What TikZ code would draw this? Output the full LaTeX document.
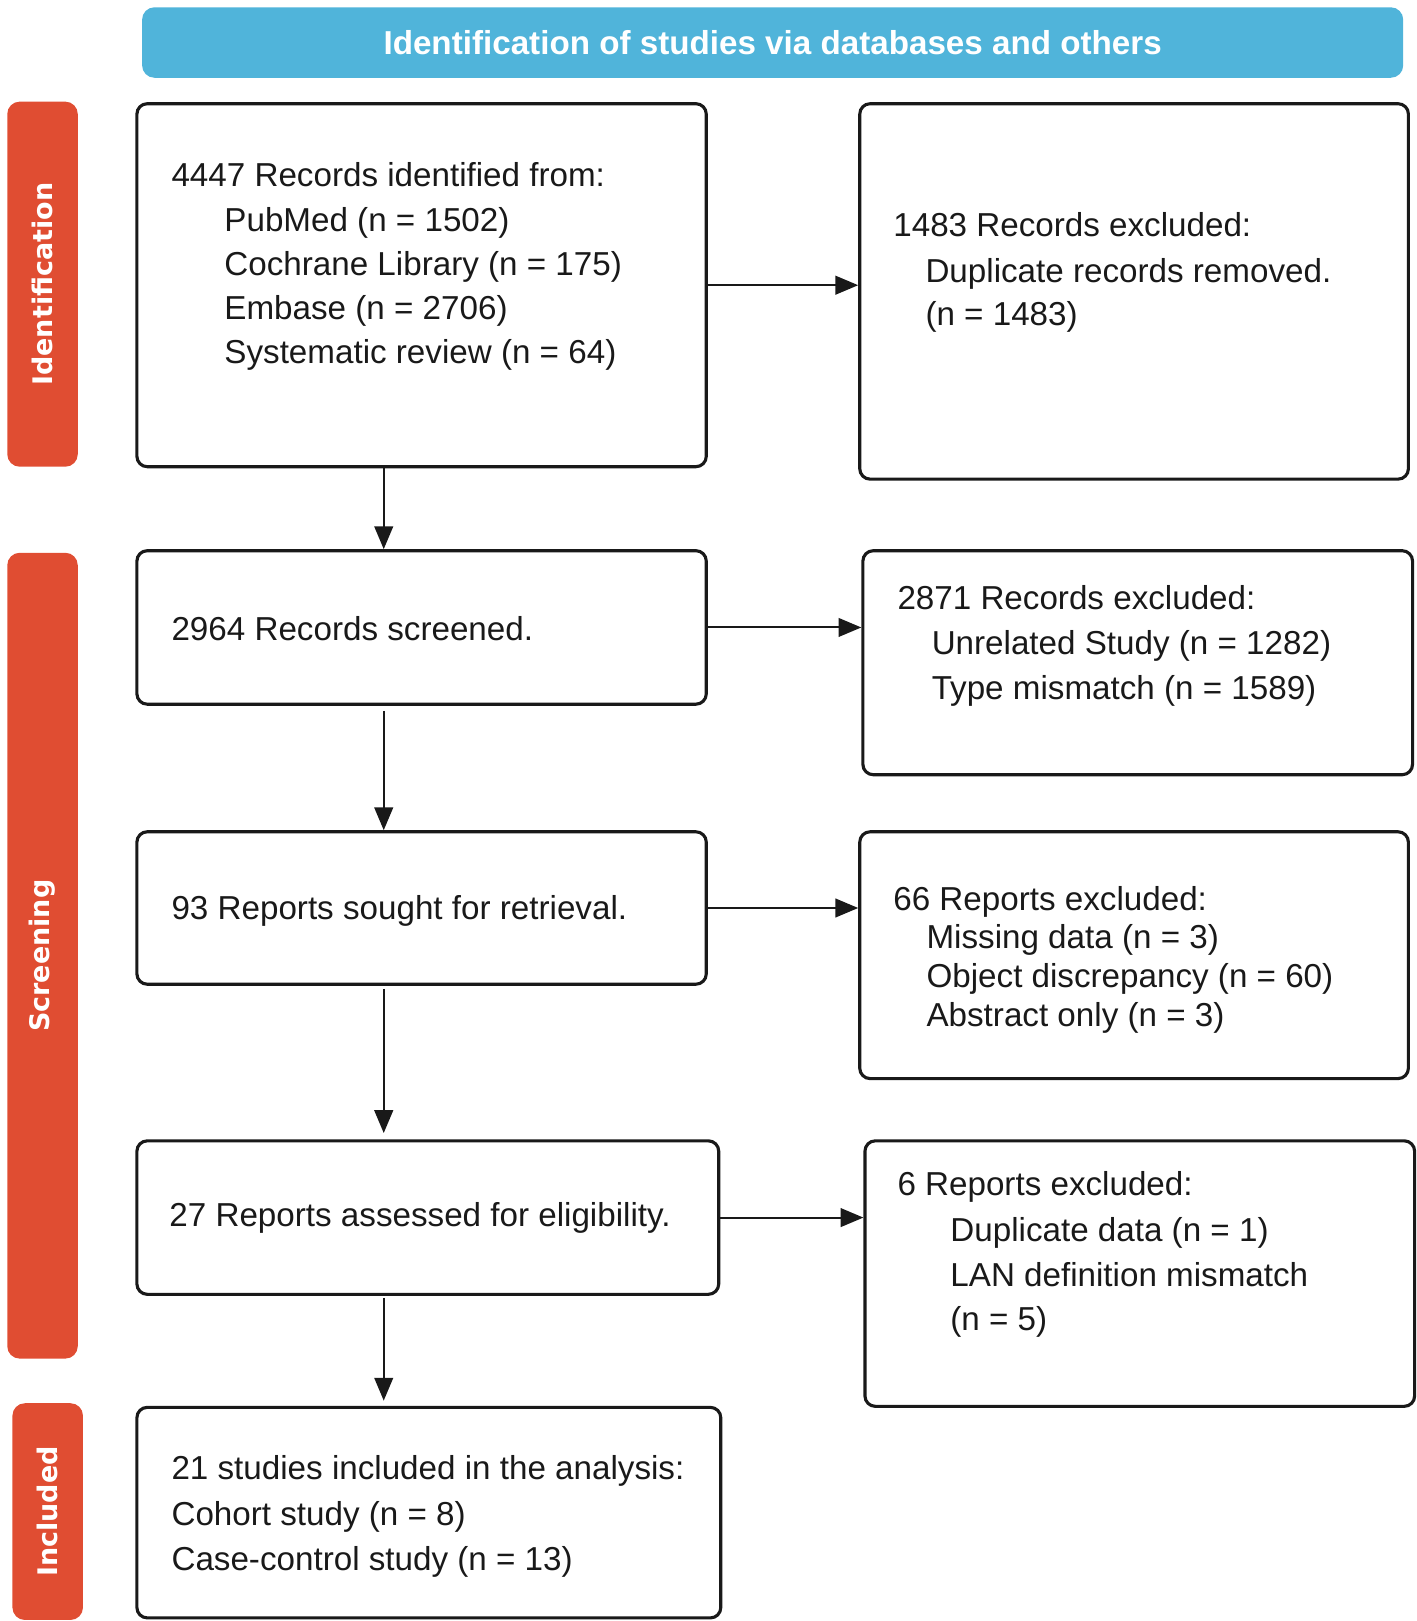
\documentclass[tikz,border=0pt]{standalone}
\usepackage{fontspec}
\setmainfont{Liberation Sans}
\newfontfamily\sidefont{DejaVu Sans}
\usetikzlibrary{arrows.meta,positioning}
\definecolor{headblue}{RGB}{80,180,218}
\definecolor{sidered}{RGB}{224,77,50}
\tikzset{
  box/.style={draw=black!90, line width=1.5pt, rounded corners=5pt, inner sep=0pt},
  txt/.style={anchor=base west, inner sep=0pt, font=\fontsize{16}{19}\selectfont, text=black!90},
  side/.style={fill=sidered, rounded corners=6pt, inner sep=0pt},
  sidetxt/.style={rotate=90, inner sep=0pt, text=white, font=\sidefont\bfseries\fontsize{13}{15}\selectfont},
  arr/.style={-{Triangle[length=11pt,width=9pt]}, line width=1pt, black!90},
}

\begin{document}
\begin{tikzpicture}[x=0.5pt,y=-0.5pt]
  \useasboundingbox (0,0) rectangle (1366,1563);

  % Header
  \node[fill=headblue, rounded corners=6pt, minimum width=608pt, minimum height=34pt] (head) at (745,41) {};
  \node[text=white, font=\bfseries\fontsize{16}{19}\selectfont] (headl) at (head) {Identification of studies via databases and others};

  % Phase labels
  \node[side, minimum width=34pt, minimum height=176pt] (sid) at (41,274) {};
  \node[sidetxt] (sidl) at (sid) {Identification};
  \node[side, minimum width=34pt, minimum height=388.5pt] (scr) at (41,921.5) {};
  \node[sidetxt] (scrl) at (scr) {Screening};
  \node[side, minimum width=34pt, minimum height=104.5pt] (inc) at (46,1457.5) {};
  \node[sidetxt] (incl) at (inc) {Included};

  % Main column
  \node[box, minimum width=274.5pt, minimum height=175pt] (b1) at (406.5,275) {};
  \node[box, minimum width=274.5pt, minimum height=74pt] (b2) at (406.5,605) {};
  \node[box, minimum width=274.5pt, minimum height=73.5pt] (b3) at (406.5,875.5) {};
  \node[box, minimum width=280.5pt, minimum height=74pt] (b4) at (412.5,1174) {};
  \node[box, minimum width=281.5pt, minimum height=101.5pt] (b5) at (413.5,1458.5) {};

  % Exclusion column
  \node[box, minimum width=264.5pt, minimum height=181pt] (r1) at (1093.5,281) {};
  \node[box, minimum width=265pt, minimum height=108pt] (r2) at (1097,639) {};
  \node[box, minimum width=264.5pt, minimum height=119pt] (r3) at (1093.5,921) {};
  \node[box, minimum width=265pt, minimum height=128pt] (r4) at (1099,1228) {};

  % Texts
  \node[txt] (b1l) at (165,180) {4447 Records identified from:};
  \foreach \t [count=\i] in {PubMed (n = 1502), Cochrane Library (n = 175), Embase (n = 2706), Systematic review (n = 64)}
    \node[txt] (b1l\i) at (216,{223+(\i-1)*42.5}) {\t};
  \node[txt] (b2l) at (165,618) {2964 Records screened.};
  \node[txt] (b3l) at (165,887) {93 Reports sought for retrieval.};
  \node[txt] (b4l) at (163,1183) {27 Reports assessed for eligibility.};
  \foreach \t [count=\i] in {21 studies included in the analysis:, Cohort study (n = 8), Case-control study (n = 13)}
    \node[txt] (b5l\i) at (165,{1427+(\i-1)*43.5}) {\t};

  \node[txt] (r1l) at (861,228) {1483 Records excluded:};
  \foreach \t [count=\i] in {Duplicate records removed., {(n = 1483)}}
    \node[txt] (r1l\i) at (892,{272+(\i-1)*42}) {\t};
  \node[txt] (r2l) at (865,588) {2871 Records excluded:};
  \foreach \t [count=\i] in {Unrelated Study (n = 1282), Type mismatch (n = 1589)}
    \node[txt] (r2l\i) at (898,{631+(\i-1)*43}) {\t};
  \node[txt] (r3l) at (861,878) {66 Reports excluded:};
  \foreach \t [count=\i] in {Missing data (n = 3), Object discrepancy (n = 60), Abstract only (n = 3)}
    \node[txt] (r3l\i) at (893,{915+(\i-1)*37.5}) {\t};
  \node[txt] (r4l) at (865,1153) {6 Reports excluded:};
  \foreach \t [count=\i] in {Duplicate data (n = 1), LAN definition mismatch, {(n = 5)}}
    \node[txt] (r4l\i) at (916,{1197+(\i-1)*43}) {\t};

  % Arrows
  \coordinate (spine) at (370,0);
  \draw[arr] (b1.south -| spine) -- (b2.north -| spine);
  \draw[arr] ([yshift=-2.5pt]b2.south -| spine) -- (b3.north -| spine);
  \draw[arr] ([yshift=-1.5pt]b3.south -| spine) -- ([yshift=3pt]b4.north -| spine);
  \draw[arr] ([yshift=-1pt]b4.south -| spine) -- ([yshift=2.5pt]b5.north -| spine);

  \draw[arr] (b1.east) -- (b1.east -| r1.west);
  \draw[arr] (b2.east) -- (b2.east -| r2.west);
  \draw[arr] (b3.east) -- (b3.east -| r3.west);
  \draw[arr] (b4.east) -- (b4.east -| r4.west);
\end{tikzpicture}
\end{document}
